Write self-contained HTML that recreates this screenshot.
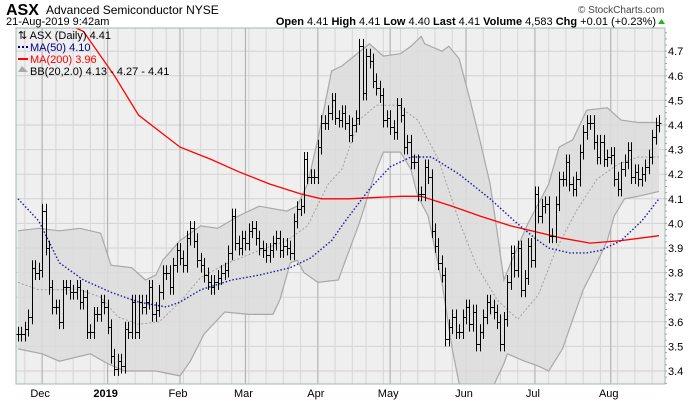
<!DOCTYPE html>
<html><head><meta charset="utf-8">
<style>
body{margin:0;background:#fff;width:700px;height:400px;overflow:hidden;font-family:"Liberation Sans",sans-serif;}
svg text{font-family:"Liberation Sans",sans-serif;}
</style></head>
<body>
<svg id="chart" width="700" height="400" viewBox="0 0 700 400" xmlns="http://www.w3.org/2000/svg">
  <text x="6" y="15" font-size="16" font-weight="bold" fill="#000">ASX</text>
  <text x="46" y="14" font-size="12" fill="#000">Advanced Semiconductor  NYSE</text>
  <text x="6" y="25" font-size="11" fill="#000">21-Aug-2019 9:42am</text>
  <text x="578" y="13" font-size="10" fill="#444">© StockCharts.com</text>
  <text x="656" y="25" font-size="11" text-anchor="end" fill="#000"><tspan font-weight="bold">Open</tspan> 4.41  <tspan font-weight="bold">High</tspan> 4.41  <tspan font-weight="bold">Low</tspan> 4.40  <tspan font-weight="bold">Last</tspan> 4.41  <tspan font-weight="bold">Volume</tspan> 4,583  <tspan font-weight="bold">Chg</tspan> +0.01 (+0.23%)</text>
  <polygon points="658,24 665,24 661.5,19" fill="#18b818"/>
  <rect x="16" y="28" width="649" height="356" fill="#efefef"/>
  <g id="grid"></g>
  <g id="bands"></g>
  <g id="lines"></g>
  <g id="bars"></g>
  <g id="axes"></g>
  <rect x="16" y="28" width="649" height="356" fill="none" stroke="#a4b8ac" stroke-width="1"/>
  <g font-size="11">
    <text x="18" y="39" fill="#000">⇅ ASX (Daily) 4.41</text>
    <line x1="18" y1="47" x2="29" y2="47" stroke="#00008b" stroke-width="2" stroke-dasharray="2,2"/>
    <text x="30" y="51" fill="#00008b">MA(50) 4.10</text>
    <line x1="18" y1="59" x2="28" y2="59" stroke="#f00" stroke-width="2"/>
    <text x="30" y="63" fill="#f00">MA(200) 3.96</text>
    <polygon points="18,72 22,66 25,69 28,72" fill="#aaa"/>
    <text x="30" y="75" fill="#000">BB(20,2.0) 4.13 - 4.27 - 4.41</text>
  </g>
</svg>
<script>
const closes=[3.55,3.55,3.57,3.62,3.82,3.80,3.81,4.05,3.90,3.74,3.66,3.66,3.60,3.74,3.74,3.72,3.72,3.74,3.68,3.70,3.56,3.56,3.63,3.63,3.68,3.66,3.58,3.46,3.41,3.44,3.42,3.57,3.56,3.68,3.56,3.68,3.66,3.68,3.74,3.63,3.65,3.72,3.80,3.80,3.74,3.83,3.89,3.86,3.83,
3.94,3.98,3.93,3.85,3.83,3.79,3.76,3.74,3.76,3.78,3.80,3.81,3.88,4.03,3.92,3.90,3.94,3.92,3.97,3.98,3.94,3.90,3.89,3.87,3.89,3.92,3.94,3.89,3.91,3.90,3.88,4.01,4.06,4.07,4.26,4.19,4.19,4.19,4.31,4.41,4.41,4.45,4.50,4.43,4.42,4.45,4.41,4.36,
4.40,4.43,4.72,4.53,4.68,4.66,4.58,4.55,4.52,4.42,4.43,4.39,4.37,4.48,4.44,4.31,4.33,4.25,4.25,4.12,4.12,4.23,4.19,3.97,3.91,3.84,3.79,3.53,3.58,3.62,3.56,3.56,3.62,3.66,3.59,3.64,3.51,3.56,3.62,3.68,3.66,3.64,3.60,3.51,3.61,3.76,3.88,3.81,
3.90,3.73,3.78,3.91,3.85,4.12,4.03,4.07,4.08,3.95,3.95,4.08,4.18,4.18,4.25,4.16,4.14,4.18,4.29,4.37,4.41,4.41,4.33,4.27,4.33,4.26,4.27,4.28,4.18,4.14,4.22,4.25,4.30,4.19,4.21,4.18,4.20,4.23,4.27,4.35,4.40,4.41];
const ma50Idx=[0,6,12,19,27,35,43,47,53,62,70,79,85,91,95,102,108,114,120,128,137,144,150,154,160,165,169,175,181,186];
const ma50Val=[4.10,4.01,3.84,3.77,3.72,3.68,3.66,3.68,3.73,3.77,3.79,3.82,3.86,3.93,4.01,4.14,4.23,4.27,4.27,4.20,4.10,4.01,3.94,3.90,3.88,3.88,3.89,3.93,4.01,4.10];
const ma200Idx=[16,19,28,35,47,56,64,73,82,88,96,111,117,126,134,143,152,158,166,175,186];
const ma200Val=[4.80,4.78,4.60,4.44,4.31,4.26,4.21,4.16,4.12,4.10,4.10,4.11,4.11,4.07,4.03,3.99,3.96,3.94,3.92,3.93,3.95];
const bbUpIdx=[0,6,12,18,24,27,33,37,40,42,47,53,58,64,70,78,81,84,87,91,94,102,106,111,114,117,118,123,125,128,131,134,137,139,141,143,148,154,157,161,165,171,175,180,186];
const bbUpVal=[3.97,3.98,3.97,3.98,3.96,3.83,3.82,3.77,3.79,3.85,3.93,3.99,3.98,4.03,4.07,4.05,4.07,4.16,4.34,4.62,4.64,4.73,4.68,4.69,4.72,4.76,4.73,4.70,4.72,4.67,4.51,4.34,4.16,3.97,3.77,3.84,4.00,4.16,4.31,4.34,4.46,4.47,4.42,4.41,4.41];
const bbLoIdx=[0,7,12,21,26,31,40,47,50,54,60,67,74,76,79,81,83,87,93,94,99,104,106,111,114,116,119,123,126,128,130,136,141,142,147,151,154,158,161,164,168,171,173,176,180,186];
const bbLoVal=[3.49,3.47,3.44,3.47,3.43,3.40,3.40,3.38,3.44,3.55,3.64,3.63,3.63,3.69,3.84,3.85,3.80,3.76,3.77,3.81,4.00,4.22,4.29,4.29,4.22,4.11,4.03,3.76,3.49,3.35,3.28,3.28,3.43,3.47,3.44,3.42,3.40,3.49,3.61,3.73,3.84,3.93,4.03,4.10,4.11,4.13];
const bbMidIdx=[0,6,18,24,29,35,41,47,53,61,70,78,84,90,94,99,104,110,116,122,128,133,139,145,151,156,162,168,174,180,186];
const bbMidVal=[3.76,3.73,3.73,3.70,3.62,3.59,3.60,3.68,3.78,3.84,3.89,3.93,3.99,4.16,4.22,4.42,4.48,4.48,4.42,4.26,4.01,3.83,3.69,3.61,3.71,3.89,4.05,4.18,4.24,4.27,4.27];
const yTicks=[3.4,3.5,3.6,3.7,3.8,3.9,4.0,4.1,4.2,4.3,4.4,4.5,4.6,4.7];
const monthLabels=["Dec","2019","Feb","Mar","Apr","May","Jun","Jul","Aug"];
const holidays=["2018-11-22","2018-12-05","2018-12-25","2019-01-01","2019-01-21","2019-02-18","2019-04-19","2019-05-27","2019-07-04"];

const NS="http://www.w3.org/2000/svg";
const X0=18,X1=659,PT=28,PB=384,PL=16,PR=665;
const n=closes.length;
const dx=(X1-X0)/(n-1);
function xs(i){return X0+i*dx;}
function ys(v){return 371-(v-3.4)*246;}
function mk(tag,attrs,parent){const e=document.createElementNS(NS,tag);for(const k in attrs)e.setAttribute(k,attrs[k]);parent.appendChild(e);return e;}

const days=[];let d=new Date(Date.UTC(2018,10,21));
while(days.length<n){const wd=d.getUTCDay();const s=d.toISOString().slice(0,10);if(wd!==0&&wd!==6&&holidays.indexOf(s)<0)days.push(new Date(d));d=new Date(d.getTime()+86400000);}

const defs=mk('defs',{},document.getElementById('chart'));
const cp=mk('clipPath',{id:'plotclip'},defs);
mk('rect',{x:PL,y:PT,width:PR-PL,height:PB-PT},cp);

const grid=document.getElementById('grid');
yTicks.forEach(v=>{
  const l=mk('line',{x1:PL,x2:PR,y1:ys(v),y2:ys(v),stroke:'#d2d2d2','stroke-width':1},grid);
  
  
});
const axes=document.getElementById('axes');
let mi=0;
for(let i=0;i<n;i++){
  const prev=i>0?days[i-1]:null;const cur=days[i];
  const newMonth=prev&&cur.getUTCMonth()!==prev.getUTCMonth();
  const newWeek=prev&&(cur.getUTCDay()<prev.getUTCDay()||(cur-prev)>3*86400000);
  if(newMonth){
    const l=mk('line',{x1:xs(i),x2:xs(i),y1:PT,y2:PB,stroke:'#b4b4b4','stroke-width':1.2},grid);
    
    
    const t=mk('text',{x:xs(i)-2,y:397,'font-size':11,'text-anchor':'middle',fill:'#000'},axes);
    if(monthLabels[mi]==="2019")t.setAttribute('font-weight','bold');
    t.textContent=monthLabels[mi]||'';
    
    
    mi++;
  } else if(newWeek){
    const l=mk('line',{x1:xs(i),x2:xs(i),y1:PT,y2:PB,stroke:'#d6d6d6','stroke-width':1},grid);
    
    
  }
}
yTicks.forEach(v=>{
  const t=mk('text',{x:668,y:ys(v)+4,'font-size':11,fill:'#000'},axes);
  t.textContent=v.toFixed(1);
  
  
});
for(let v=3.35;v<=4.8;v+=0.025){const y=ys(v);if(y<PT||y>PB)continue;
  const tk=mk('line',{x1:665,x2:667,y1:y,y2:y,stroke:'#8aa898','stroke-width':1},axes);
  
  
}

function pts(idx,val){return idx.map((k,j)=>xs(k).toFixed(1)+','+ys(val[j]).toFixed(1));}
const bands=document.getElementById('bands');
bands.setAttribute('clip-path','url(#plotclip)');
const poly=mk('polygon',{points:pts(bbUpIdx,bbUpVal).concat(pts(bbLoIdx,bbLoVal).reverse()).join(' '),fill:'#dcdcdc','fill-opacity':0.85},bands);


const up=mk('polyline',{points:pts(bbUpIdx,bbUpVal).join(' '),fill:'none',stroke:'#a8a8a8','stroke-width':1.2},bands);


const lo=mk('polyline',{points:pts(bbLoIdx,bbLoVal).join(' '),fill:'none',stroke:'#a8a8a8','stroke-width':1.2},bands);


const mid=mk('polyline',{points:pts(bbMidIdx,bbMidVal).join(' '),fill:'none',stroke:'#a0a0a0','stroke-width':1,'stroke-dasharray':'2,2'},bands);



const lines=document.getElementById('lines');
lines.setAttribute('clip-path','url(#plotclip)');
const m200=mk('polyline',{points:pts(ma200Idx,ma200Val).join(' '),fill:'none',stroke:'#f00','stroke-width':1.3},lines);


const m50=mk('polyline',{points:pts(ma50Idx,ma50Val).join(' '),fill:'none',stroke:'#1a1a9a','stroke-width':1.4,'stroke-dasharray':'1.5,2'},lines);



const bars=document.getElementById('bars');
bars.setAttribute('clip-path','url(#plotclip)');
for(let i=0;i<n;i++){
  const c=closes[i],o=i>0?closes[i-1]:c;
  const hi=Math.max(o,c)+0.03,lo2=Math.min(o,c)-0.03;
  const x=Math.round(xs(i))+0.5;
  const g=mk('g',{stroke:'#000','stroke-width':1},bars);
  
  
  mk('line',{x1:x,x2:x,y1:ys(hi),y2:ys(lo2)},g);
  mk('line',{x1:x-2,x2:x,y1:Math.round(ys(o))+0.5,y2:Math.round(ys(o))+0.5},g);
  mk('line',{x1:x,x2:x+2,y1:Math.round(ys(c))+0.5,y2:Math.round(ys(c))+0.5},g);
}
</script>
</body></html>
